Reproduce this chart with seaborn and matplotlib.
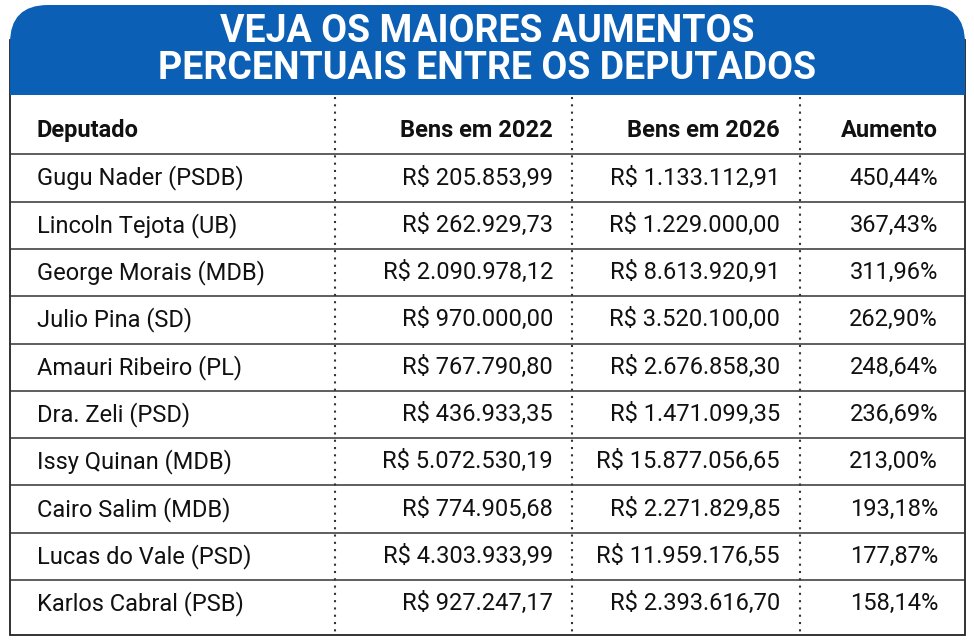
import matplotlib
matplotlib.use("Agg")
import matplotlib.pyplot as plt
import seaborn as sns
from matplotlib.patches import FancyBboxPatch, Rectangle

deputados = ["Gugu Nader (PSDB)", "Lincoln Tejota (UB)", "George Morais (MDB)", "Julio Pina (SD)",
             "Amauri Ribeiro (PL)", "Dra. Zeli (PSD)", "Issy Quinan (MDB)", "Cairo Salim (MDB)",
             "Lucas do Vale (PSD)", "Karlos Cabral (PSB)"]
bens_2022 = ["R$ 205.853,99", "R$ 262.929,73", "R$ 2.090.978,12", "R$ 970.000,00", "R$ 767.790,80",
             "R$ 436.933,35", "R$ 5.072.530,19", "R$ 774.905,68", "R$ 4.303.933,99", "R$ 927.247,17"]
bens_2026 = ["R$ 1.133.112,91", "R$ 1.229.000,00", "R$ 8.613.920,91", "R$ 3.520.100,00", "R$ 2.676.858,30",
             "R$ 1.471.099,35", "R$ 15.877.056,65", "R$ 2.271.829,85", "R$ 11.959.176,55", "R$ 2.393.616,70"]
aumento = ["450,44%", "367,43%", "311,96%", "262,90%", "248,64%", "236,69%", "213,00%", "193,18%",
           "177,87%", "158,14%"]
headers = ["Deputado", "Bens em 2022", "Bens em 2026", "Aumento"]
title = "VEJA OS MAIORES AUMENTOS\nPERCENTUAIS ENTRE OS DEPUTADOS"

sns.set_theme(style="white")
plt.rcParams['font.family'] = ['Roboto', 'DejaVu Sans']

fig = plt.figure(figsize=(9.74, 6.44), dpi=100)
ax = fig.add_axes([0, 0, 1, 1])
ax.set_xlim(0, 974)
ax.set_ylim(644, 0)
ax.axis("off")

blue = "#0b5fb5"
# outer border
ax.add_patch(Rectangle((10, 40), 955, 595, fill=False, ec="#222222", lw=1.3))
ax.add_patch(FancyBboxPatch((10, 5), 955, 90, boxstyle="round,pad=0,rounding_size=38",
                            fc=blue, ec="none", zorder=3))
ax.add_patch(Rectangle((10, 60), 955, 35, fc=blue, ec="none", zorder=3))
ax.text(487, 50, title, color="white", ha="center", va="center", fontsize=27,
        fontweight="bold", linespacing=1.0, zorder=4)

fs = 17
header_y = 130
row0, step = 178, 47.3
# columns: (x, align)
cols = [(37, "left"), (553, "right"), (780, "right"), (938, "right")]
for (x, ha), h in zip(cols, headers):
    ax.text(x, header_y, h, ha=ha, va="center", fontsize=fs, fontweight="bold", color="#111111")

for i, row in enumerate(zip(deputados, bens_2022, bens_2026, aumento)):
    y = row0 + i * step
    for (x, ha), v in zip(cols, row):
        ax.text(x, y, v, ha=ha, va="center", fontsize=fs, color="#111111")
    ax.plot([10, 965], [y - step / 2, y - step / 2], color="#333333", lw=1.1)

for x in [335, 572, 800]:
    ax.plot([x, x], [97, 635], color="#333333", lw=1.5, ls=(0, (1, 2.5)))

fig.savefig("out.png", dpi=100)
